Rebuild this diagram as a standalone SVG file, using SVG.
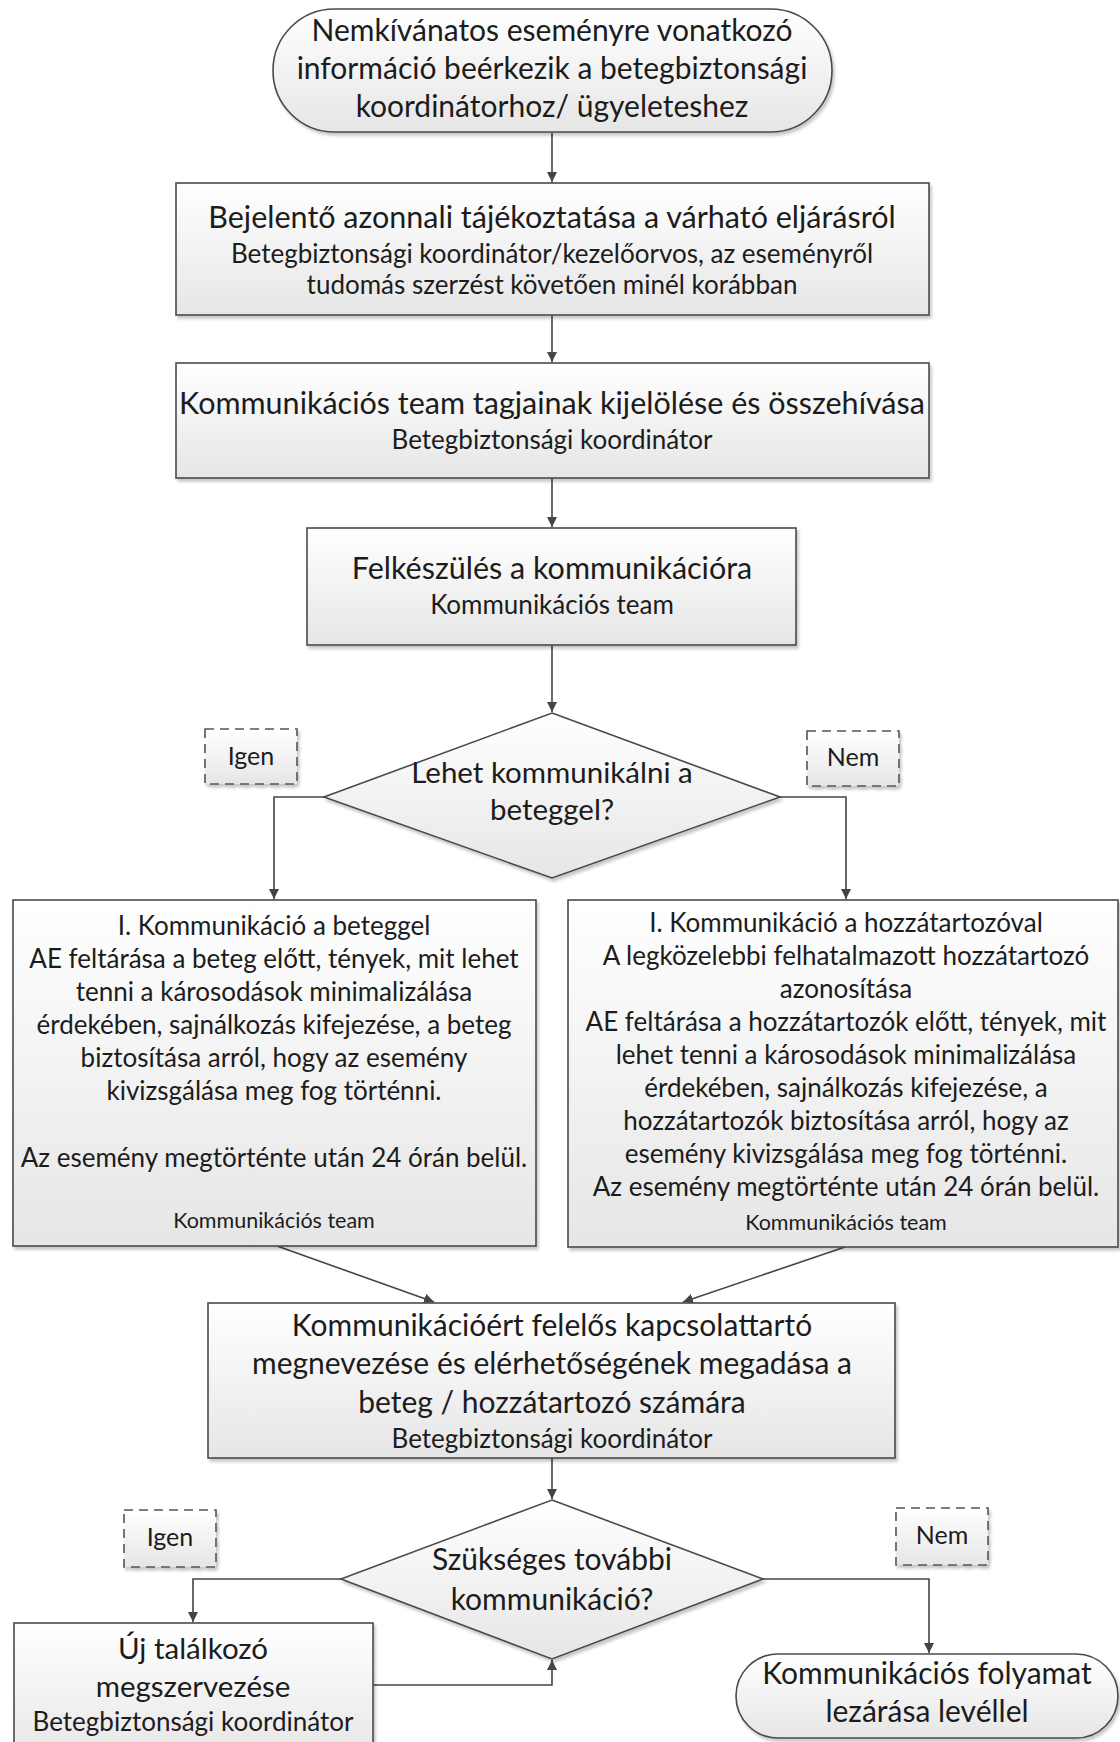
<svg xmlns="http://www.w3.org/2000/svg" width="1120" height="1742" viewBox="0 0 1120 1742">
<style>
.shape{stroke:#4a4a4a;stroke-width:1.6;fill:url(#g)}
.lbl{stroke:#555;stroke-width:1.6;stroke-dasharray:9 6;fill:url(#g)}
.edge{fill:none;stroke:#444;stroke-width:1.6}
text{font-family:Lato,"Liberation Sans",sans-serif;fill:#1c1c1c;text-anchor:middle}
.t1{font-size:30px}
.tt{font-size:30.5px}
.sub{font-size:26px}
.body{font-size:26px}
.sm{font-size:21.5px}
.dm{font-size:30px}
.dm1{font-size:29.5px}
.lb{font-size:25px}
.big{font-size:30px}
.big2{font-size:29.5px}
</style>
<defs>
<linearGradient id="g" x1="0" y1="0" x2="0" y2="1">
<stop offset="0" stop-color="#ffffff"/>
<stop offset="1" stop-color="#e6e6e6"/>
</linearGradient>
<filter id="sh" x="-5%" y="-5%" width="110%" height="115%">
<feDropShadow dx="2" dy="3" stdDeviation="1.5" flood-color="#000" flood-opacity="0.22"/>
</filter>
<marker id="ar" viewBox="0 0 10 10" refX="10" refY="5" markerWidth="10" markerHeight="10" markerUnits="userSpaceOnUse" orient="auto">
<path d="M0,0 L10,5 L0,10 z" fill="#444"/>
</marker>
</defs>

<g id="connectors">
<path class="edge" d="M552,133 V182" marker-end="url(#ar)"/>
<path class="edge" d="M552,316 V362" marker-end="url(#ar)"/>
<path class="edge" d="M552,478 V527" marker-end="url(#ar)"/>
<path class="edge" d="M552,645 V712" marker-end="url(#ar)"/>
<path class="edge" d="M324,797 H274 V899" marker-end="url(#ar)"/>
<path class="edge" d="M780,797 H846 V899" marker-end="url(#ar)"/>
<path class="edge" d="M277,1246 L434,1302" marker-end="url(#ar)"/>
<path class="edge" d="M845,1247 L683,1302" marker-end="url(#ar)"/>
<path class="edge" d="M552,1458 V1499" marker-end="url(#ar)"/>
<path class="edge" d="M341,1579 H193 V1622" marker-end="url(#ar)"/>
<path class="edge" d="M763,1579 H929 V1653" marker-end="url(#ar)"/>
<path class="edge" d="M373,1685 H552 V1660" marker-end="url(#ar)"/>
</g>

<g id="start">
<rect class="shape" filter="url(#sh)" x="273" y="9" width="559" height="123" rx="61.5"/>
<text class="t1" x="552" y="41">Nemkívánatos eseményre vonatkozó</text>
<text class="t1" x="552" y="79">információ beérkezik a betegbiztonsági</text>
<text class="t1" x="552" y="117">koordinátorhoz/ ügyeleteshez</text>
</g>

<g id="bejelento">
<rect class="shape" filter="url(#sh)" x="176" y="183" width="753" height="132"/>
<text class="tt" x="552" y="228">Bejelentő azonnali tájékoztatása a várható eljárásról</text>
<text class="sub" x="552" y="263">Betegbiztonsági koordinátor/kezelőorvos, az eseményről</text>
<text class="sub" x="552" y="294">tudomás szerzést követően minél korábban</text>
</g>

<g id="team">
<rect class="shape" filter="url(#sh)" x="176" y="363" width="753" height="115"/>
<text class="tt" x="552" y="414">Kommunikációs team tagjainak kijelölése és összehívása</text>
<text class="sub" x="552" y="449">Betegbiztonsági koordinátor</text>
</g>

<g id="felkeszules">
<rect class="shape" filter="url(#sh)" x="307" y="528" width="489" height="117"/>
<text class="tt" x="552" y="579">Felkészülés a kommunikációra</text>
<text class="sub" x="552" y="614">Kommunikációs team</text>
</g>

<g id="dontes1">
<polygon class="shape" filter="url(#sh)" points="552,713 780,797 552,878 324,797"/>
<text class="dm1" x="552" y="783">Lehet kommunikálni a</text>
<text class="dm1" x="552" y="820">beteggel?</text>
</g>

<g id="igen1">
<rect class="lbl" filter="url(#sh)" x="205" y="729" width="92" height="55"/>
<text class="lb" x="251" y="765">Igen</text>
</g>

<g id="nem1">
<rect class="lbl" filter="url(#sh)" x="807" y="731" width="92" height="55"/>
<text class="lb" x="853" y="766">Nem</text>
</g>

<g id="beteggel">
<rect class="shape" filter="url(#sh)" x="13" y="900" width="523" height="346"/>
<text class="body" x="274" y="935">I. Kommunikáció a beteggel</text>
<text class="body" x="274" y="968">AE feltárása a beteg előtt, tények, mit lehet</text>
<text class="body" x="274" y="1001">tenni a károsodások minimalizálása</text>
<text class="body" x="274" y="1034">érdekében, sajnálkozás kifejezése, a beteg</text>
<text class="body" x="274" y="1067">biztosítása arról, hogy az esemény</text>
<text class="body" x="274" y="1100">kivizsgálása meg fog történni.</text>
<text class="body" x="274" y="1167">Az esemény megtörténte után 24 órán belül.</text>
<text class="sm" x="274" y="1228">Kommunikációs team</text>
</g>

<g id="hozzatartozoval">
<rect class="shape" filter="url(#sh)" x="568" y="900" width="550" height="347"/>
<text class="body" x="846" y="932">I. Kommunikáció a hozzátartozóval</text>
<text class="body" x="846" y="965">A legközelebbi felhatalmazott hozzátartozó</text>
<text class="body" x="846" y="998">azonosítása</text>
<text class="body" x="846" y="1031">AE feltárása a hozzátartozók előtt, tények, mit</text>
<text class="body" x="846" y="1064">lehet tenni a károsodások minimalizálása</text>
<text class="body" x="846" y="1097">érdekében, sajnálkozás kifejezése, a</text>
<text class="body" x="846" y="1130">hozzátartozók biztosítása arról, hogy az</text>
<text class="body" x="846" y="1163">esemény kivizsgálása meg fog történni.</text>
<text class="body" x="846" y="1196">Az esemény megtörténte után 24 órán belül.</text>
<text class="sm" x="846" y="1230">Kommunikációs team</text>
</g>

<g id="kapcsolattarto">
<rect class="shape" filter="url(#sh)" x="208" y="1303" width="687" height="155"/>
<text class="big" x="552" y="1336">Kommunikációért felelős kapcsolattartó</text>
<text class="big" x="552" y="1374">megnevezése és elérhetőségének megadása a</text>
<text class="big" x="552" y="1413">beteg / hozzátartozó számára</text>
<text class="sub" x="552" y="1448">Betegbiztonsági koordinátor</text>
</g>

<g id="dontes2">
<polygon class="shape" filter="url(#sh)" points="552,1500 763,1579 552,1659 341,1579"/>
<text class="dm" x="552" y="1570">Szükséges további</text>
<text class="dm" x="552" y="1610">kommunikáció?</text>
</g>

<g id="igen2">
<rect class="lbl" filter="url(#sh)" x="124" y="1510" width="92" height="57"/>
<text class="lb" x="170" y="1546">Igen</text>
</g>

<g id="nem2">
<rect class="lbl" filter="url(#sh)" x="896" y="1508" width="92" height="57"/>
<text class="lb" x="942" y="1544">Nem</text>
</g>

<g id="uj_talalkozo">
<rect class="shape" filter="url(#sh)" x="14" y="1623" width="359" height="140"/>
<text class="big2" x="193" y="1659">Új találkozó</text>
<text class="big2" x="193" y="1697">megszervezése</text>
<text class="sub" x="193" y="1731">Betegbiztonsági koordinátor</text>
</g>

<g id="lezaras">
<rect class="shape" filter="url(#sh)" x="736" y="1654" width="382" height="84" rx="42"/>
<text class="big" x="927" y="1684">Kommunikációs folyamat</text>
<text class="big" x="927" y="1722">lezárása levéllel</text>
</g>
</svg>
